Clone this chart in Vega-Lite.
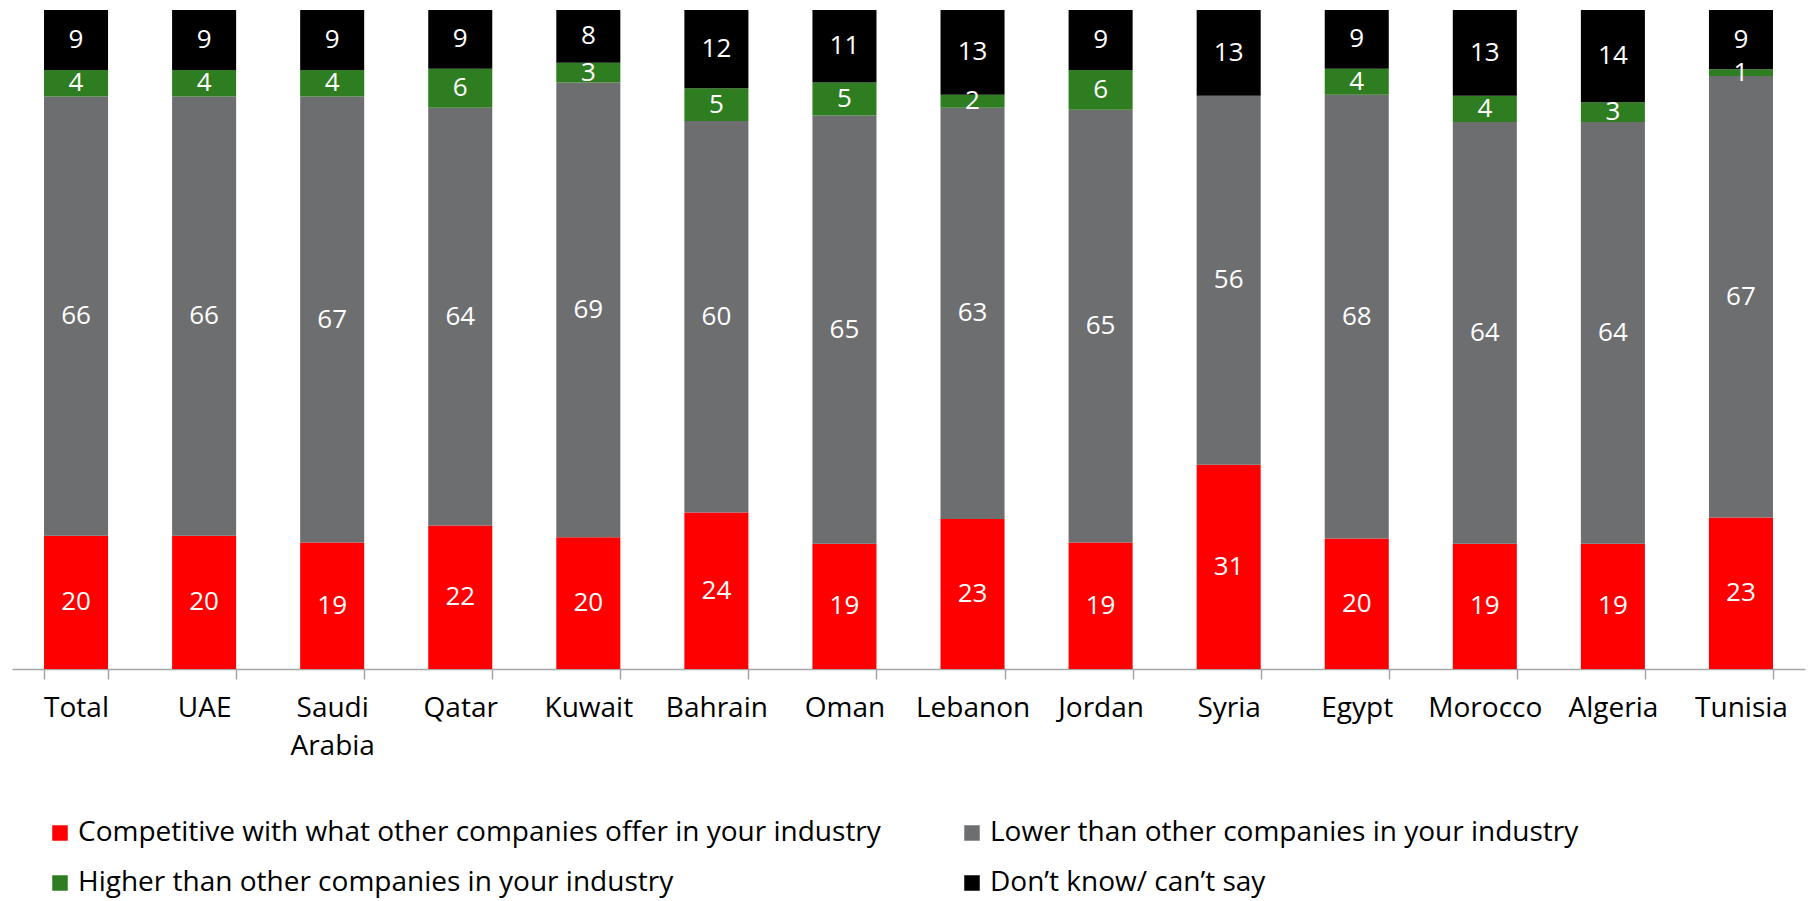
{
  "$schema": "https://vega.github.io/schema/vega-lite/v6.json",
  "width": 1793,
  "height": 659,
  "autosize": {"type": "none"},
  "padding": {"left": 12, "top": 10, "right": 13, "bottom": 232},
  "background": "white",
  "config": {
    "view": {"stroke": null},
    "font": "Open Sans"
  },
  "data": {
    "values": [
      {"country": "Total", "cat": "Competitive with what other companies offer in your industry", "o": 1, "v": 20},
      {"country": "Total", "cat": "Lower than other companies in your industry", "o": 2, "v": 66},
      {"country": "Total", "cat": "Higher than other companies in your industry", "o": 3, "v": 4},
      {"country": "Total", "cat": "Don’t know/ can’t say", "o": 4, "v": 9},
      {"country": "UAE", "cat": "Competitive with what other companies offer in your industry", "o": 1, "v": 20},
      {"country": "UAE", "cat": "Lower than other companies in your industry", "o": 2, "v": 66},
      {"country": "UAE", "cat": "Higher than other companies in your industry", "o": 3, "v": 4},
      {"country": "UAE", "cat": "Don’t know/ can’t say", "o": 4, "v": 9},
      {"country": "Saudi Arabia", "cat": "Competitive with what other companies offer in your industry", "o": 1, "v": 19},
      {"country": "Saudi Arabia", "cat": "Lower than other companies in your industry", "o": 2, "v": 67},
      {"country": "Saudi Arabia", "cat": "Higher than other companies in your industry", "o": 3, "v": 4},
      {"country": "Saudi Arabia", "cat": "Don’t know/ can’t say", "o": 4, "v": 9},
      {"country": "Qatar", "cat": "Competitive with what other companies offer in your industry", "o": 1, "v": 22},
      {"country": "Qatar", "cat": "Lower than other companies in your industry", "o": 2, "v": 64},
      {"country": "Qatar", "cat": "Higher than other companies in your industry", "o": 3, "v": 6},
      {"country": "Qatar", "cat": "Don’t know/ can’t say", "o": 4, "v": 9},
      {"country": "Kuwait", "cat": "Competitive with what other companies offer in your industry", "o": 1, "v": 20},
      {"country": "Kuwait", "cat": "Lower than other companies in your industry", "o": 2, "v": 69},
      {"country": "Kuwait", "cat": "Higher than other companies in your industry", "o": 3, "v": 3},
      {"country": "Kuwait", "cat": "Don’t know/ can’t say", "o": 4, "v": 8},
      {"country": "Bahrain", "cat": "Competitive with what other companies offer in your industry", "o": 1, "v": 24},
      {"country": "Bahrain", "cat": "Lower than other companies in your industry", "o": 2, "v": 60},
      {"country": "Bahrain", "cat": "Higher than other companies in your industry", "o": 3, "v": 5},
      {"country": "Bahrain", "cat": "Don’t know/ can’t say", "o": 4, "v": 12},
      {"country": "Oman", "cat": "Competitive with what other companies offer in your industry", "o": 1, "v": 19},
      {"country": "Oman", "cat": "Lower than other companies in your industry", "o": 2, "v": 65},
      {"country": "Oman", "cat": "Higher than other companies in your industry", "o": 3, "v": 5},
      {"country": "Oman", "cat": "Don’t know/ can’t say", "o": 4, "v": 11},
      {"country": "Lebanon", "cat": "Competitive with what other companies offer in your industry", "o": 1, "v": 23},
      {"country": "Lebanon", "cat": "Lower than other companies in your industry", "o": 2, "v": 63},
      {"country": "Lebanon", "cat": "Higher than other companies in your industry", "o": 3, "v": 2},
      {"country": "Lebanon", "cat": "Don’t know/ can’t say", "o": 4, "v": 13},
      {"country": "Jordan", "cat": "Competitive with what other companies offer in your industry", "o": 1, "v": 19},
      {"country": "Jordan", "cat": "Lower than other companies in your industry", "o": 2, "v": 65},
      {"country": "Jordan", "cat": "Higher than other companies in your industry", "o": 3, "v": 6},
      {"country": "Jordan", "cat": "Don’t know/ can’t say", "o": 4, "v": 9},
      {"country": "Syria", "cat": "Competitive with what other companies offer in your industry", "o": 1, "v": 31},
      {"country": "Syria", "cat": "Lower than other companies in your industry", "o": 2, "v": 56},
      {"country": "Syria", "cat": "Don’t know/ can’t say", "o": 4, "v": 13},
      {"country": "Egypt", "cat": "Competitive with what other companies offer in your industry", "o": 1, "v": 20},
      {"country": "Egypt", "cat": "Lower than other companies in your industry", "o": 2, "v": 68},
      {"country": "Egypt", "cat": "Higher than other companies in your industry", "o": 3, "v": 4},
      {"country": "Egypt", "cat": "Don’t know/ can’t say", "o": 4, "v": 9},
      {"country": "Morocco", "cat": "Competitive with what other companies offer in your industry", "o": 1, "v": 19},
      {"country": "Morocco", "cat": "Lower than other companies in your industry", "o": 2, "v": 64},
      {"country": "Morocco", "cat": "Higher than other companies in your industry", "o": 3, "v": 4},
      {"country": "Morocco", "cat": "Don’t know/ can’t say", "o": 4, "v": 13},
      {"country": "Algeria", "cat": "Competitive with what other companies offer in your industry", "o": 1, "v": 19},
      {"country": "Algeria", "cat": "Lower than other companies in your industry", "o": 2, "v": 64},
      {"country": "Algeria", "cat": "Higher than other companies in your industry", "o": 3, "v": 3},
      {"country": "Algeria", "cat": "Don’t know/ can’t say", "o": 4, "v": 14},
      {"country": "Tunisia", "cat": "Competitive with what other companies offer in your industry", "o": 1, "v": 23},
      {"country": "Tunisia", "cat": "Lower than other companies in your industry", "o": 2, "v": 67},
      {"country": "Tunisia", "cat": "Higher than other companies in your industry", "o": 3, "v": 1},
      {"country": "Tunisia", "cat": "Don’t know/ can’t say", "o": 4, "v": 9}
    ]
  },
  "encoding": {
    "x": {
      "field": "country",
      "type": "nominal",
      "sort": null,
      "scale": {"paddingInner": 0.5, "paddingOuter": 0.25},
      "axis": {
        "title": null,
        "labelAngle": 0,
        "labelFont": "Open Sans",
        "labelFontSize": 28,
        "labelColor": "#000000",
        "labelPadding": 15,
        "labelLineHeight": 38,
        "labelExpr": "datum.label == 'Saudi Arabia' ? ['Saudi', 'Arabia'] : datum.label",
        "domainColor": "#A6A6A6",
        "domainWidth": 1.5,
        "tickColor": "#A6A6A6",
        "tickWidth": 1.5,
        "tickSize": 10,
        "tickBand": "extent",
        "grid": false
      }
    },
    "y": {
      "field": "v",
      "type": "quantitative",
      "stack": "normalize",
      "axis": null
    },
    "order": {"field": "o", "type": "quantitative"}
  },
  "layer": [
    {
      "mark": {"type": "bar"},
      "encoding": {
        "color": {
          "field": "cat",
          "type": "nominal",
          "scale": {
            "domain": [
              "Competitive with what other companies offer in your industry",
              "Lower than other companies in your industry",
              "Higher than other companies in your industry",
              "Don’t know/ can’t say"
            ],
            "range": ["#FF0000", "#6D6E70", "#2F7D21", "#000000"]
          },
          "legend": {
            "title": null,
            "orient": "none",
            "legendX": 34,
            "legendY": 809,
            "direction": "horizontal",
            "columns": 2,
            "columnPadding": 77,
            "rowPadding": 22,
            "padding": 0,
            "symbolType": "square",
            "symbolSize": 240,
            "symbolStrokeWidth": 0,
            "labelFont": "Open Sans",
            "labelFontSize": 28,
            "labelColor": "#000000",
            "labelOffset": 4,
            "labelLimit": 1000
          }
        }
      }
    },
    {
      "mark": {"type": "text", "color": "white", "fontSize": 26, "font": "Open Sans", "baseline": "middle"},
      "encoding": {
        "y": {"field": "v", "type": "quantitative", "stack": "normalize", "bandPosition": 0.5},
        "text": {"field": "v", "type": "quantitative"}
      }
    }
  ]
}
